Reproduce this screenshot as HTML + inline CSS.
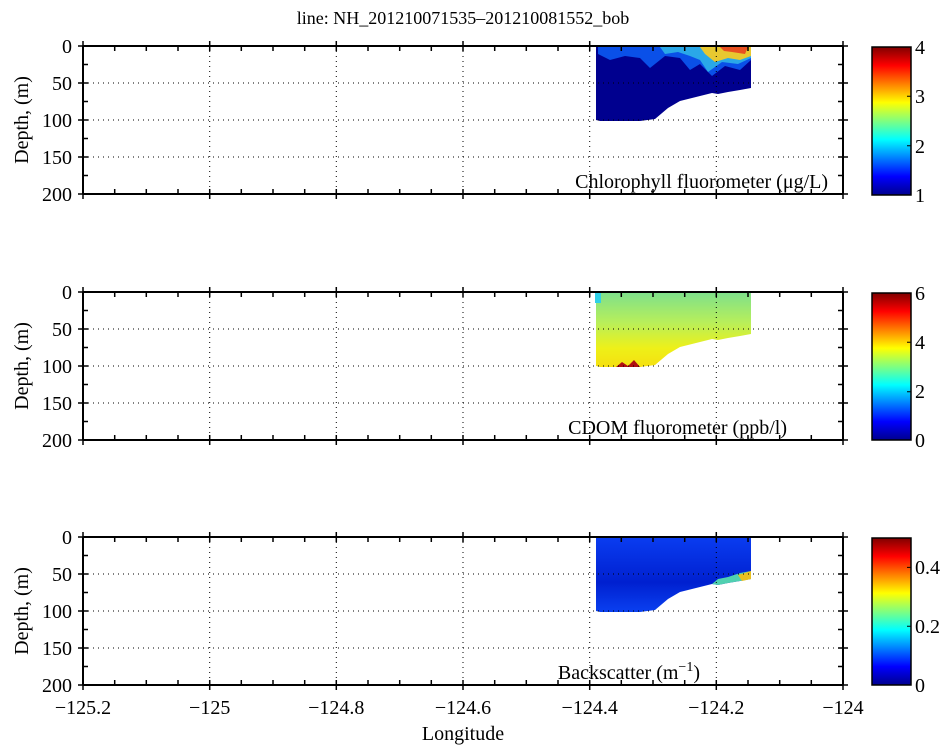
<!DOCTYPE html>
<html><head><meta charset="utf-8"><style>body{margin:0;background:#fff}svg{display:block}text{font-family:"Liberation Serif",serif;fill:#000}</style></head><body>
<svg width="950" height="750" viewBox="0 0 950 750" xmlns="http://www.w3.org/2000/svg">
<defs>
<linearGradient id="jet" x1="0" y1="1" x2="0" y2="0">
<stop offset="0" stop-color="#00008f"/><stop offset="0.125" stop-color="#0000ff"/><stop offset="0.375" stop-color="#00ffff"/><stop offset="0.625" stop-color="#ffff00"/><stop offset="0.875" stop-color="#ff0000"/><stop offset="1" stop-color="#800000"/>
</linearGradient>
<linearGradient id="cdom" x1="0" y1="0" x2="0" y2="1">
<stop offset="0" stop-color="#7fe08a"/><stop offset="0.4" stop-color="#b8ef5a"/><stop offset="0.75" stop-color="#eef018"/><stop offset="1" stop-color="#f5e010"/>
</linearGradient>
<linearGradient id="bs" x1="0" y1="0" x2="0" y2="1">
<stop offset="0" stop-color="#0a3cf0"/><stop offset="0.6" stop-color="#0020d0"/><stop offset="1" stop-color="#0a40f0"/>
</linearGradient>
<g id="grid" stroke="#000" stroke-width="1" stroke-dasharray="1,4" fill="none">
<line x1="209.7" y1="0" x2="209.7" y2="148"/><line x1="336.3" y1="0" x2="336.3" y2="148"/><line x1="463" y1="0" x2="463" y2="148"/><line x1="589.7" y1="0" x2="589.7" y2="148"/><line x1="716.3" y1="0" x2="716.3" y2="148"/>
<line x1="83" y1="37" x2="843" y2="37"/><line x1="83" y1="74" x2="843" y2="74"/><line x1="83" y1="111" x2="843" y2="111"/>
</g>
<g id="frame" stroke="#000" fill="none">
<line x1="83" y1="0" x2="843" y2="0" stroke-width="2"/><line x1="83" y1="148" x2="843" y2="148" stroke-width="2"/>
<line x1="83" y1="0" x2="83" y2="148" stroke-width="2"/><line x1="843" y1="0" x2="843" y2="148" stroke-width="2"/>
<path stroke-width="1.5" d="M83,-5v10M209.7,-5v10M336.3,-5v10M463,-5v10M589.7,-5v10M716.3,-5v10M843,-5v10
M83,143v10M209.7,143v10M336.3,143v10M463,143v10M589.7,143v10M716.3,143v10M843,143v10
M114.7,0v5M146.3,0v5M178,0v5M241.3,0v5M273,0v5M304.7,0v5M368,0v5M399.7,0v5M431.3,0v5M494.7,0v5M526.3,0v5M558,0v5M621.3,0v5M653,0v5M684.7,0v5M748,0v5M779.7,0v5M811.3,0v5
M114.7,148v-5M146.3,148v-5M178,148v-5M241.3,148v-5M273,148v-5M304.7,148v-5M368,148v-5M399.7,148v-5M431.3,148v-5M494.7,148v-5M526.3,148v-5M558,148v-5M621.3,148v-5M653,148v-5M684.7,148v-5M748,148v-5M779.7,148v-5M811.3,148v-5
M78,0h10M78,37h10M78,74h10M78,111h10M78,148h10M83,18.5h5M83,55.5h5M83,92.5h5M83,129.5h5
M838,0h10M838,37h10M838,74h10M838,111h10M838,148h10M843,18.5h-5M843,55.5h-5M843,92.5h-5M843,129.5h-5"/>
</g>
<g id="ylab" font-size="20" text-anchor="end">
<text x="72" y="7">0</text><text x="72" y="44">50</text><text x="72" y="81">100</text><text x="72" y="118">150</text><text x="72" y="155">200</text>
<text transform="translate(28,74) rotate(-90)" text-anchor="middle">Depth, (m)</text>
</g>
<path id="shape" d="M596,1 L751,1 L751,42 L740,44 L728,46 L718,48 L712,47 L700,50 L680,55 L668,62 L655,73 L640,75 L600,75 L596,74 Z"/>
</defs>
<text x="463" y="24" font-size="18" text-anchor="middle">line: NH_201210071535–201210081552_bob</text>

<!-- Panel 1 -->
<g transform="translate(0,46)">
<use href="#shape" fill="#00008f"/>
<path d="M598,1 L751,1 L751,14 L740,24 L725,20 L712,30 L700,18 L690,24 L680,12 L665,10 L650,22 L640,12 L625,10 L610,14 L598,8Z" fill="#0a50e8"/>
<path d="M660,1 L751,1 L751,12 L738,18 L722,16 L708,26 L700,14 L690,10 L678,6 L665,8Z" fill="#2aa8e8"/>
<path d="M700,1 L751,1 L751,10 L740,14 L728,12 L715,16 L705,8Z" fill="#e8c830"/>
<path d="M720,1 L748,1 L745,8 L732,6 L724,5Z" fill="#e85020"/>
<use href="#grid"/><use href="#frame"/><use href="#ylab"/>
<text x="828" y="142" font-size="20" text-anchor="end">Chlorophyll fluorometer (μg/L)</text>
<rect x="872" y="1" width="39" height="148" fill="url(#jet)" stroke="#000" stroke-width="1.5"/>
<path d="M911,50.3h-4M911,99.7h-4" stroke="#000"/>
<g font-size="20"><text x="915" y="156">1</text><text x="915" y="107">2</text><text x="915" y="57">3</text><text x="915" y="8">4</text></g>
</g>

<!-- Panel 2 -->
<g transform="translate(0,292)">
<use href="#shape" fill="url(#cdom)"/>
<rect x="595" y="1" width="6" height="10" fill="#30d0e8"/>
<path d="M616,75 L622,70 L628,74 L634,68 L640,75Z" fill="#b01010"/>
<use href="#grid"/><use href="#frame"/><use href="#ylab"/>
<text x="787" y="142" font-size="20" text-anchor="end">CDOM fluorometer (ppb/l)</text>
<rect x="872" y="1" width="39" height="147" fill="url(#jet)" stroke="#000" stroke-width="1.5"/>
<path d="M911,99.7h-4M911,50.3h-4" stroke="#000"/>
<g font-size="20"><text x="915" y="155">0</text><text x="915" y="106">2</text><text x="915" y="57">4</text><text x="915" y="8">6</text></g>
</g>

<!-- Panel 3 -->
<g transform="translate(0,537)">
<use href="#shape" fill="url(#bs)"/>
<path d="M712,47 L718,42 L728,40 L740,36 L751,34 L751,42 L740,44 L728,46 L718,48Z" fill="#50d0b0"/>
<path d="M738,38 L751,34 L751,42 L742,44Z" fill="#e8c020"/>
<use href="#grid"/><use href="#frame"/><use href="#ylab"/>
<text x="700" y="142" font-size="20" text-anchor="end">Backscatter (m<tspan dy="-8" font-size="14">−1</tspan><tspan dy="8">)</tspan></text>
<rect x="872" y="1" width="39" height="147" fill="url(#jet)" stroke="#000" stroke-width="1.5"/>
<path d="M911,89.2h-4M911,30.4h-4" stroke="#000"/>
<g font-size="20"><text x="915" y="155">0</text><text x="915" y="96">0.2</text><text x="915" y="37">0.4</text></g>
</g>

<g font-size="20" text-anchor="middle">
<text x="83" y="714">−125.2</text><text x="209.7" y="714">−125</text><text x="336.3" y="714">−124.8</text><text x="463" y="714">−124.6</text><text x="589.7" y="714">−124.4</text><text x="716.3" y="714">−124.2</text><text x="843" y="714">−124</text>
<text x="463" y="740">Longitude</text>
</g>
</svg>
</body></html>
